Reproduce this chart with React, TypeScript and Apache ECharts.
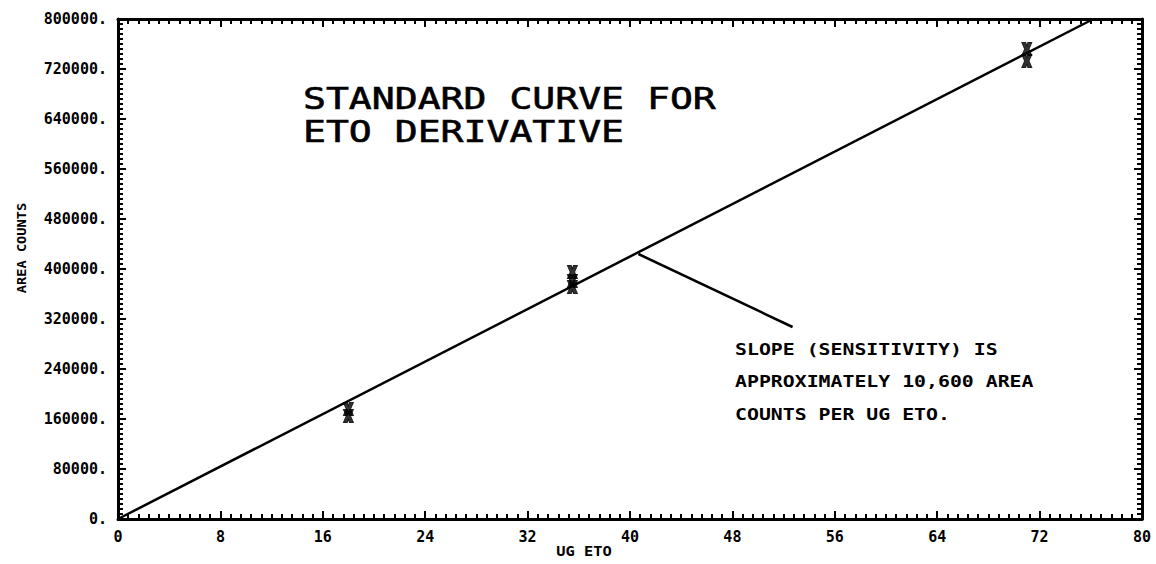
import React, { useEffect, useRef } from "react";
import * as echarts from "echarts";

// ---- data ----
const xMin = 0;
const xMax = 80;
const xStep = 8;
const yMin = 0;
const yMax = 800000;
const yStep = 80000;

// standards (replicate injections)
const standardUg = [18, 18, 35.5, 35.5, 35.5, 71, 71];
const standardCounts = [176000, 164800, 395200, 380800, 371200, 752000, 732800];

// fitted standard curve
const fitUg = [0, 76.2];
const fitCounts = [0, 800000];

// leader line from curve to annotation
const leaderUg = [40.66, 52.7];
const leaderCounts = [424000, 307200];

const titleLines = ["STANDARD CURVE FOR", "ETO DERIVATIVE"];
const noteLines = [
  "SLOPE (SENSITIVITY) IS",
  "APPROXIMATELY 10,600 AREA",
  "COUNTS PER UG ETO.",
];
const xName = "UG ETO";
const yName = "AREA COUNTS";

const MONO = "'DejaVu Sans Mono', monospace";
const X_SYMBOL =
  "path://M0,0 L4,0 L5,3 L6,0 L10,0 L7.2,6 L10,12 L6,12 L5,9 L4,12 L0,12 L2.8,6 Z";

export default function App() {
  const ref = useRef<HTMLDivElement>(null);

  useEffect(() => {
    if (!ref.current) return;
    const chart = echarts.init(ref.current, null, { renderer: "svg" });

    const baseAxis = {
      type: "value" as const,
      axisLine: { show: true, onZero: false, lineStyle: { color: "#000", width: 3 } },
      axisTick: { show: true, inside: true, length: 8, lineStyle: { color: "#000", width: 2 } },
      minorTick: { show: true, splitNumber: 10, length: 5, lineStyle: { color: "#000", width: 2 } },
      splitLine: { show: false },
      minorSplitLine: { show: false },
    };

    const labelStyle = {
      color: "#000",
      fontFamily: MONO,
      fontWeight: "bold" as const,
      fontSize: 15,
    };

    chart.setOption({
      animation: false,
      backgroundColor: "#fff",
      grid: { left: 118, right: 14, top: 19, bottom: 45, containLabel: false },
      xAxis: [
        {
          ...baseAxis,
          position: "bottom",
          min: xMin,
          max: xMax,
          interval: xStep,
          axisLabel: { ...labelStyle, margin: 10, formatter: (v: number) => String(v) },
        },
        {
          ...baseAxis,
          position: "top",
          min: xMin,
          max: xMax,
          interval: xStep,
          axisLabel: { show: false },
        },
      ],
      yAxis: [
        {
          ...baseAxis,
          position: "left",
          min: yMin,
          max: yMax,
          interval: yStep,
          axisLabel: { ...labelStyle, margin: 11, formatter: (v: number) => v + "." },
        },
        {
          ...baseAxis,
          position: "right",
          min: yMin,
          max: yMax,
          interval: yStep,
          axisLabel: { show: false },
        },
      ],
      series: [
        {
          type: "line",
          name: "fit",
          data: fitUg.map((x, i) => [x, fitCounts[i]]),
          showSymbol: false,
          lineStyle: { color: "#000", width: 2.5 },
          silent: true,
        },
        {
          type: "line",
          name: "leader",
          data: leaderUg.map((x, i) => [x, leaderCounts[i]]),
          showSymbol: false,
          lineStyle: { color: "#000", width: 2.5 },
          silent: true,
        },
        {
          type: "scatter",
          name: "standards",
          data: standardUg.map((x, i) => [x, standardCounts[i]]),
          symbol: X_SYMBOL,
          symbolSize: [10, 13],
          itemStyle: { color: "#000", borderColor: "#000", borderWidth: 1 },
        },
      ],
      graphic: [
        ...titleLines.map((t, i) => ({
          type: "text",
          x: 303,
          y: 99 + i * 33,
          scaleX: 1.27,
          style: {
            text: t,
            font: `normal 30px ${MONO}`,
            fill: "#000",
            stroke: "#000",
            lineWidth: 0.6,
            verticalAlign: "middle",
            align: "left",
          },
        })),
        ...noteLines.map((t, i) => ({
          type: "text",
          x: 735,
          y: 349 + i * 32.5,
          scaleX: 1.24,
          style: {
            text: t,
            font: `bold 16px ${MONO}`,
            fill: "#000",
            verticalAlign: "middle",
            align: "left",
          },
        })),
        {
          type: "text",
          x: 584,
          y: 551,
          scaleX: 1.1,
          style: {
            text: xName,
            font: `bold 14px ${MONO}`,
            fill: "#000",
            verticalAlign: "middle",
            align: "center",
          },
        },
        {
          type: "text",
          x: 22,
          y: 248,
          rotation: Math.PI / 2,
          scaleX: 1.05,
          style: {
            text: yName,
            font: `bold 13px ${MONO}`,
            fill: "#000",
            verticalAlign: "middle",
            align: "center",
          },
        },
      ],
    });

    return () => chart.dispose();
  }, []);

  return (
    <div
      ref={ref}
      style={{ position: "fixed", left: 0, top: 0, width: 1156, height: 564, background: "#fff" }}
    />
  );
}
